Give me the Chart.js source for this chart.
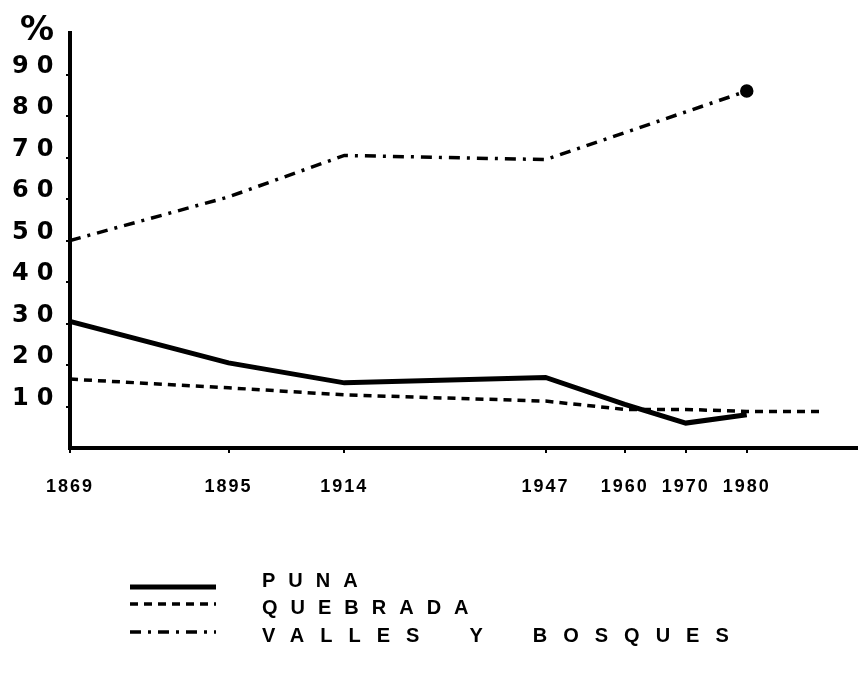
<!DOCTYPE html>
<html>
<head>
<meta charset="utf-8">
<script src="https://cdn.jsdelivr.net/npm/chart.js@4"></script>
<style>
  html, body { margin: 0; padding: 0; background: #fff; }
  #wrap { width: 865px; height: 676px; }
</style>
</head>
<body>
<div id="wrap"><canvas id="chart" width="865" height="676"></canvas></div>
<script>
// census years shown on the x axis
const censusYears = [1869, 1895, 1914, 1947, 1960, 1970, 1980];

// share of population (%) per region
const punaYears = [1869, 1895, 1914, 1947, 1960, 1970, 1980];
const punaValues = [30.5, 20.5, 15.7, 17, 10.5, 6, 8];

const quebradaYears = [1869, 1895, 1914, 1947, 1960, 1970, 1980, 1992];
const quebradaValues = [16.6, 14.5, 12.8, 11.3, 9.3, 9.3, 8.8, 8.8];

const vallesYears = [1869, 1895, 1914, 1947, 1980];
const vallesValues = [50, 60.5, 70.5, 69.5, 86];

const yTicks = [10, 20, 30, 40, 50, 60, 70, 80, 90];

function toPoints(xs, ys) {
  return xs.map((x, i) => ({ x: x, y: ys[i] }));
}

// letter spacing for each axis' tick labels
const axisSpacing = { x: "2px", y: "8px" };

// draws the "%" sign and the legend under the chart
const extras = {
  id: "extras",
  beforeDraw(chart) {
    Object.values(chart.scales).forEach((scale) => {
      if (scale._spaced) return;
      const orig = scale.drawLabels.bind(scale);
      scale.drawLabels = function (area) {
        const c = this.ctx;
        c.save();
        c.letterSpacing = axisSpacing[this.id] || "0px";
        orig(area);
        c.restore();
      };
      scale._spaced = true;
    });
  },
  afterDraw(chart) {
    const ctx = chart.ctx;
    ctx.save();
    ctx.fillStyle = "#000";
    ctx.font = "bold 34px 'DejaVu Sans'";
    ctx.textBaseline = "alphabetic";
    ctx.fillText("%", 20, 40);

    const lineRows = [587, 604, 632];
    const textRows = [581, 608, 636];
    const spacing = [13, 13, 16];
    chart.data.datasets.forEach((ds, i) => {
      ctx.beginPath();
      ctx.setLineDash(ds.borderDash || []);
      ctx.lineWidth = ds.borderWidth;
      ctx.strokeStyle = "#000";
      ctx.moveTo(130, lineRows[i]);
      ctx.lineTo(216, lineRows[i]);
      ctx.stroke();
      ctx.setLineDash([]);

      ctx.font = "bold 20px 'Liberation Sans'";
      ctx.letterSpacing = spacing[i] + "px";
      ctx.textBaseline = "middle";
      let x = 262;
      ds.label.split(" ").forEach((word) => {
        ctx.fillText(word, x, textRows[i]);
        x += ctx.measureText(word).width - spacing[i] + 50;
      });
    });
    ctx.restore();
  },
};

new Chart(document.getElementById("chart"), {
  type: "line",
  data: {
    datasets: [
      {
        label: "PUNA",
        data: toPoints(punaYears, punaValues),
        borderColor: "#000",
        borderWidth: 5,
        pointRadius: 0,
      },
      {
        label: "QUEBRADA",
        data: toPoints(quebradaYears, quebradaValues),
        borderColor: "#000",
        borderWidth: 3.5,
        borderDash: [8, 6],
        pointRadius: 0,
      },
      {
        label: "VALLES Y BOSQUES",
        data: toPoints(vallesYears, vallesValues),
        borderColor: "#000",
        borderWidth: 3.5,
        borderDash: [11, 7, 3, 7],
        pointRadius: [0, 0, 0, 0, 5],
        pointBackgroundColor: "#000",
        pointBorderColor: "#000",
      },
    ],
  },
  options: {
    responsive: false,
    animation: false,
    layout: { padding: { top: 33, right: 5, left: 12, bottom: 0 } },
    plugins: {
      legend: { display: false },
      tooltip: { enabled: false },
    },
    scales: {
      x: {
        type: "linear",
        min: 1869,
        max: 1998,
        afterFit: (scale) => {
          scale.height = 228;
        },
        afterBuildTicks: (scale) => {
          scale.ticks = censusYears.map((v) => ({ value: v }));
        },
        border: { color: "#000", width: 4 },
        grid: {
          drawOnChartArea: false,
          color: "#000",
          lineWidth: 2,
          tickLength: 5,
        },
        ticks: {
          color: "#000",
          padding: 23,
          maxRotation: 0,
          autoSkip: false,
          font: { family: "'Liberation Sans Narrow', 'Liberation Sans'", weight: "bold", size: 18 },
          callback: (v) => String(v),
        },
      },
      y: {
        min: 0,
        max: 100,
        afterFit: (scale) => {
          scale.width = 58;
        },
        afterBuildTicks: (scale) => {
          scale.ticks = yTicks.map((v) => ({ value: v }));
        },
        border: { color: "#000", width: 4 },
        grid: {
          drawOnChartArea: false,
          color: "#000",
          lineWidth: 2,
          tickLength: 4,
        },
        ticks: {
          color: "#000",
          padding: 4,
          crossAlign: "far",
          labelOffset: -8,
          font: { family: "'DejaVu Sans'", weight: "bold", size: 24 },
        },
      },
    },
  },
  plugins: [extras],
});
</script>
</body>
</html>
